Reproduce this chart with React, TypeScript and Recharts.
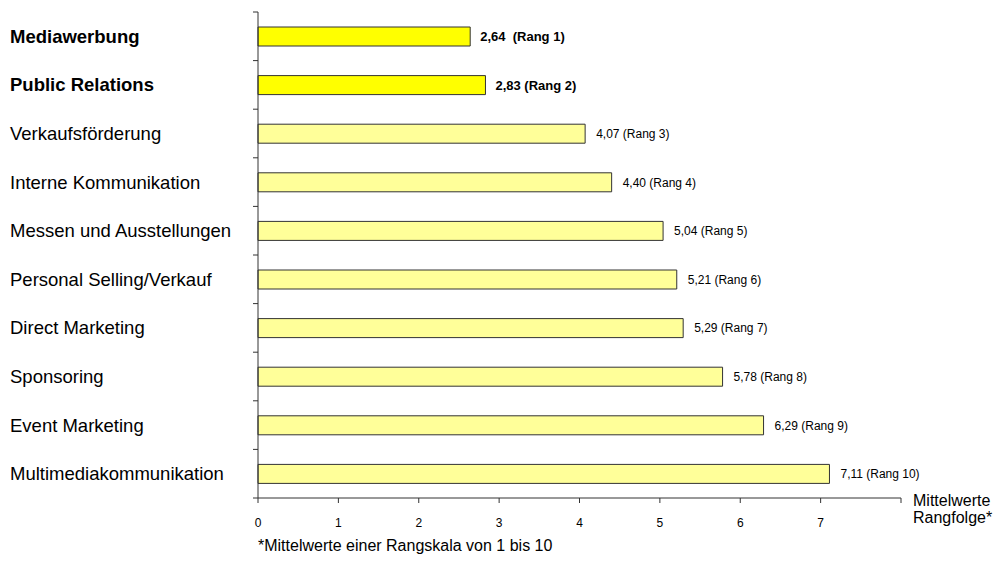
import { BarChart, Bar, XAxis, YAxis, Cell, LabelList } from 'recharts';

const instruments = [
  'Mediawerbung',
  'Public Relations',
  'Verkaufsförderung',
  'Interne Kommunikation',
  'Messen und Ausstellungen',
  'Personal Selling/Verkauf',
  'Direct Marketing',
  'Sponsoring',
  'Event Marketing',
  'Multimediakommunikation',
];
const meanRanks = [2.64, 2.83, 4.07, 4.4, 5.04, 5.21, 5.29, 5.78, 6.29, 7.11];
const xTicks = [0, 1, 2, 3, 4, 5, 6, 7, 8];
// the leading instruments get the strong yellow and bold labels
const highlighted = 2;

const WIDTH = 997;
const HEIGHT = 564;
const AXIS_LEFT = 258;
const X_AXIS_HEIGHT = 30;
const MARGIN = { top: 12, right: 96, bottom: 36, left: 0 };
const BAND = (HEIGHT - MARGIN.top - MARGIN.bottom - X_AXIS_HEIGHT) / instruments.length;
const FONT = 'Arial, "Liberation Sans", sans-serif';
const AXIS_COLOR = '#333';

const data = instruments.map((name, i) => ({ name, value: meanRanks[i] }));

const fmt = (v: number) => v.toFixed(2).replace('.', ',');

function CategoryTick(props: any) {
  const { y, payload, index } = props;
  const bold = index < highlighted;
  const top = y - BAND / 2;
  return (
    <g>
      <line x1={AXIS_LEFT - 5} x2={AXIS_LEFT} y1={top} y2={top} stroke={AXIS_COLOR} />
      {index === instruments.length - 1 && (
        <line x1={AXIS_LEFT - 5} x2={AXIS_LEFT} y1={y + BAND / 2} y2={y + BAND / 2} stroke={AXIS_COLOR} />
      )}
      <text
        x={10}
        y={y}
        dy="0.35em"
        fontSize={18.5}
        fontWeight={bold ? 'bold' : 'normal'}
        fill="#000"
        fontFamily={FONT}
      >
        {payload.value}
      </text>
    </g>
  );
}

function RankLabel(props: any) {
  const { x, y, width, height, value, index } = props;
  const bold = index < highlighted;
  // first entry is set with a wider gap before the rank
  const gap = index === 0 ? '  ' : ' ';
  return (
    <text
      x={x + width + (bold ? 10 : 11)}
      y={y + height / 2}
      dy="0.35em"
      fontSize={bold ? 13 : 12}
      fontWeight={bold ? 'bold' : 'normal'}
      fill="#000"
      fontFamily={FONT}
      style={{ whiteSpace: 'pre' }}
    >
      {`${fmt(value)}${gap}(Rang ${index + 1})`}
    </text>
  );
}

function AxisTitle(props: any) {
  const vb = props.viewBox;
  const x = vb.x + vb.width + 12;
  return (
    <text x={x} y={vb.y + 8} fontSize={16} fill="#000" fontFamily={FONT}>
      <tspan x={x}>Mittelwerte</tspan>
      <tspan x={x} dy={17}>Rangfolge*</tspan>
    </text>
  );
}

export default function App() {
  return (
    <div style={{ position: 'absolute', left: 0, top: 0, width: WIDTH, height: HEIGHT, background: '#fff', fontFamily: FONT }}>
      <BarChart width={WIDTH} height={HEIGHT} data={data} layout="vertical" margin={MARGIN}>
        <XAxis
          type="number"
          domain={[0, 8]}
          ticks={xTicks}
          interval={0}
          height={X_AXIS_HEIGHT}
          tickSize={5}
          tickMargin={15}
          stroke={AXIS_COLOR}
          tick={{ fill: '#000', fontSize: 12, fontFamily: FONT }}
          tickFormatter={(v: number) => (v === 8 ? '' : String(v))}
          label={{ content: AxisTitle }}
        />
        <YAxis
          type="category"
          dataKey="name"
          width={AXIS_LEFT}
          interval={0}
          tickLine={false}
          stroke={AXIS_COLOR}
          tick={CategoryTick}
        />
        <Bar dataKey="value" barSize={19} stroke={AXIS_COLOR} strokeWidth={1} isAnimationActive={false}>
          {data.map((d, i) => (
            <Cell key={d.name} fill={i < highlighted ? '#FFFF00' : '#FFFF99'} />
          ))}
          <LabelList dataKey="value" content={RankLabel} />
        </Bar>
      </BarChart>
      <div style={{ position: 'absolute', left: AXIS_LEFT, top: 537, fontSize: 16, color: '#000', whiteSpace: 'nowrap' }}>
        *Mittelwerte einer Rangskala von 1 bis 10
      </div>
    </div>
  );
}
